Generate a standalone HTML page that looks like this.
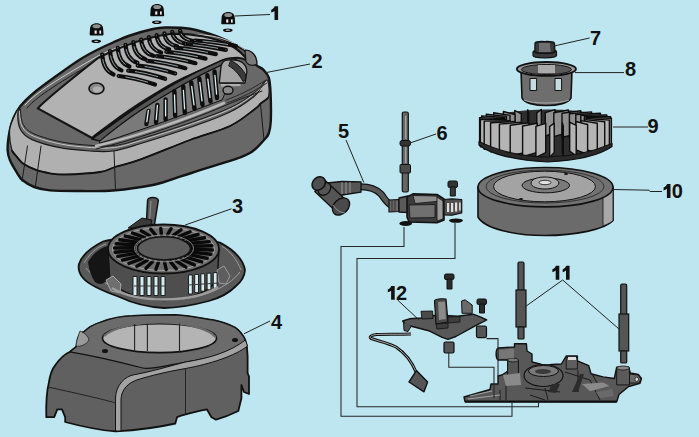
<!DOCTYPE html>
<html><head><meta charset="utf-8">
<style>
html,body{margin:0;padding:0;background:#bee6f0;}
svg{display:block;}
.lb{font-family:"Liberation Sans",sans-serif;font-weight:bold;font-size:20px;fill:#111;}
</style></head>
<body>
<svg width="699" height="437" viewBox="0 0 699 437">
<rect width="699" height="437" fill="#bee6f0"/>

<!-- ===== PART 2 : air cleaner cover ===== -->
<g id="p2" stroke-linejoin="round" stroke-linecap="round">
  <path d="M7.6,150.0 C7.5,145.1 8.6,136.4 9.6,131.0 C10.6,125.6 11.9,121.7 13.7,117.5 C15.5,113.3 17.2,110.2 20.6,106.0 C24.0,101.8 28.2,97.6 34.3,92.5 C40.4,87.4 49.4,81.0 57.0,75.5 C64.6,70.0 73.2,63.8 80.0,59.5 C86.8,55.2 92.5,52.3 98.0,49.5 C103.5,46.7 107.7,44.8 113.0,42.5 C118.3,40.2 123.7,37.7 130.0,35.5 C136.3,33.3 145.2,30.8 151.0,29.5 C156.8,28.2 158.5,27.6 165.0,27.5 C171.5,27.4 181.3,27.3 190.0,28.8 C198.7,30.3 209.1,33.6 217.0,36.5 C224.9,39.4 232.3,43.1 237.6,46.0 C242.9,48.9 245.5,50.7 248.6,53.8 C251.7,56.9 253.6,62.2 256.0,64.8 C258.4,67.4 260.9,67.3 263.0,69.4 C265.1,71.5 267.5,73.5 268.8,77.6 C270.1,81.7 270.3,86.8 270.6,94.0 C270.9,101.2 271.1,114.4 270.8,121.0 C270.5,127.6 269.8,130.3 268.7,133.5 C267.6,136.7 266.6,137.1 264.0,140.0 C261.4,142.9 257.0,148.1 253.0,151.0 C249.0,153.9 244.7,155.6 240.0,157.5 C235.3,159.4 231.7,160.2 225.0,162.3 C218.3,164.4 207.5,167.8 200.0,170.2 C192.5,172.6 187.7,174.3 180.0,176.7 C172.3,179.1 165.2,182.4 154.0,184.7 C142.8,187.0 125.3,189.4 113.0,190.5 C100.7,191.6 90.5,191.0 80.0,191.0 C69.5,191.0 57.6,191.1 50.0,190.4 C42.4,189.7 38.9,188.7 34.3,187.0 C29.7,185.3 25.2,182.4 22.3,180.0 C19.4,177.6 18.9,175.9 16.9,172.6 C14.8,169.3 11.6,164.1 10.0,160.3 C8.4,156.5 7.7,154.9 7.6,150.0 Z" fill="#686868" stroke="#141414" stroke-width="2.4"/>
  <!-- light side band -->
  <path d="M20.6,105.0 C21.3,104.5 17.8,110.6 17.8,114.7 C17.8,118.8 18.3,125.7 20.6,129.8 C22.9,133.9 25.0,136.4 31.6,139.4 C38.2,142.4 50.3,145.8 60.0,147.7 C69.7,149.6 81.2,150.4 90.0,151.0 C98.8,151.6 104.7,152.2 113.0,151.0 C121.3,149.8 127.2,147.7 140.0,143.8 C152.8,139.9 175.0,132.8 190.0,127.5 C205.0,122.2 219.3,117.2 230.0,112.0 C240.7,106.8 248.8,100.6 254.0,96.5 C259.2,92.4 258.9,90.2 261.0,87.5 C263.1,84.8 265.4,79.9 266.7,80.0 C268.0,80.1 268.8,85.0 269.0,88.0 C269.2,91.0 269.3,95.5 268.0,98.0 C266.7,100.5 263.3,101.4 261.0,103.3 C258.7,105.2 259.5,105.7 254.3,109.5 C249.1,113.3 240.7,120.9 230.0,126.0 C219.3,131.1 205.0,134.4 190.0,140.0 C175.0,145.6 152.5,155.1 140.0,159.6 C127.5,164.1 121.7,164.9 115.0,167.0 C108.3,169.1 108.3,170.8 100.0,172.0 C91.7,173.2 73.3,174.3 65.0,174.5 C56.7,174.7 54.8,174.1 50.0,173.3 C45.2,172.5 40.5,171.6 36.0,169.9 C31.5,168.2 26.2,165.6 23.0,163.4 C19.8,161.2 18.7,159.0 16.9,156.9 C15.1,154.8 13.2,155.0 12.0,150.7 C10.8,146.4 9.3,136.5 9.6,131.0 C9.9,125.5 11.9,121.8 13.7,117.5 C15.5,113.2 19.9,105.5 20.6,105.0 Z" fill="#b0b0b0" stroke="#1a1a1a" stroke-width="1.2"/>
  <path d="M12.0,150.7 C12.8,151.7 15.1,154.8 16.9,156.9 C18.7,159.0 19.8,161.2 23.0,163.4 C26.2,165.6 31.5,168.2 36.0,169.9 C40.5,171.6 45.2,172.5 50.0,173.3 C54.8,174.1 56.7,174.7 65.0,174.5 C73.3,174.3 91.7,173.2 100.0,172.0 C108.3,170.8 108.3,169.1 115.0,167.0 C121.7,164.9 127.5,164.1 140.0,159.6 C152.5,155.1 175.0,145.6 190.0,140.0 C205.0,134.4 219.3,131.1 230.0,126.0 C240.7,120.9 249.1,113.3 254.3,109.5 C259.5,105.7 258.7,105.2 261.0,103.3 C263.3,101.4 266.8,98.9 268.0,98.0" fill="none" stroke="#111" stroke-width="1.8"/>
  <!-- facet lines -->
  <path d="M27.5,146 L22,181 M41,146 L35.5,186 M114,151 L115.5,190 M260.5,104 L264,140" stroke="#1a1a1a" stroke-width="1" fill="none"/>
  <!-- rim groove lines -->
  <path d="M19.3,111.2 C19.8,113.7 19.8,122.2 22.1,126.3 C24.4,130.4 26.5,132.9 33.1,135.9 C39.7,138.9 51.8,142.3 61.5,144.2 C71.2,146.1 82.7,146.9 91.5,147.5 C100.3,148.1 106.2,148.7 114.5,147.5 C122.8,146.3 128.7,144.2 141.5,140.3 C154.3,136.4 176.5,129.3 191.5,124.0 C206.5,118.7 220.8,113.7 231.5,108.5 C242.2,103.3 250.3,97.1 255.5,93.0 C260.7,88.9 261.3,85.5 262.5,84.0" fill="none" stroke="#d0d0d0" stroke-width="0.9"/>
  <path d="M20.3,109.2 C20.8,111.7 20.8,120.2 23.1,124.3 C25.4,128.4 27.5,130.9 34.1,133.9 C40.7,136.9 52.8,140.3 62.5,142.2 C72.2,144.1 83.7,144.9 92.5,145.5 C101.3,146.1 107.2,146.7 115.5,145.5 C123.8,144.3 129.7,142.2 142.5,138.3 C155.3,134.4 177.5,127.3 192.5,122.0 C207.5,116.7 221.8,111.7 232.5,106.5 C243.2,101.3 251.3,95.1 256.5,91.0 C261.7,86.9 262.3,83.5 263.5,82.0" fill="none" stroke="#1a1a1a" stroke-width="1"/>
  <path d="M25,105 C35,93 60,78 98,56 C130,40 175,31 212,36 C235,41 248,50 252,58" fill="none" stroke="#d8d8d8" stroke-width="0.9"/>
  <path d="M27,108 C37,96 62,81 98,60" fill="none" stroke="#1a1a1a" stroke-width="1"/>
  <!-- top light panel -->
  <path d="M37.8,108.4 C45,100 60,88 98,58 C120,47 145,37 170,34 C190,33 215,37 232,46 C240,51 245,56 248,61 C240,57 235,56 222,62 C200,71 184,76 165,88 C150,97 139,103 120,117 C108,126 98,133 92,138 Z" fill="#b2b2b2" stroke="#141414" stroke-width="2.2"/>
  <!-- arch band -->
  <path d="M92,139 C110,126 125,115 140,105 C165,88 195,72 218,62 C226,58 232,57 236,59 L238,63 C232,62 226,63 222,65 C195,77 165,95 140,111 C128,119 115,129 100,141 Z" fill="#555" stroke="#111" stroke-width="1.6"/>
  <!-- side vent area -->
  <path d="M100,141 C115,129 128,119 140,111 C165,95 195,77 222,65 C226,72 228,90 222,100 C200,108 170,120 140,130 C125,135 112,140 100,143 Z" fill="#7a7a7a" stroke="#111" stroke-width="1"/>
  <g stroke="#0e0e0e" stroke-width="4.4" fill="none" stroke-linecap="round"><path d="M146.4,124.0 L148.5,111.0"/><path d="M156.0,122.5 L157.4,105.0"/><path d="M165.6,119.3 L165.6,99.5"/><path d="M175.2,116.0 L174.4,91.2"/><path d="M184.8,112.8 L183.2,86.4"/><path d="M194.5,108.8 L191.2,82.4"/><path d="M202.5,104.8 L199.3,78.4"/><path d="M210.5,101.6 L207.3,75.2"/><path d="M217.0,98.0 L214.5,71.5"/></g>
  <g stroke="#d8eef2" stroke-width="1.3" fill="none" stroke-linecap="round"><path d="M146.8,121.6 L148.4,110.4"/><path d="M156.2,119.5 L157.4,105.4"/><path d="M165.6,115.9 L165.6,100.2"/><path d="M175.1,112.3 L174.5,94.9"/><path d="M184.6,108.8 L183.4,90.4"/><path d="M194.0,104.8 L191.7,86.4"/><path d="M202.0,100.8 L199.8,82.4"/><path d="M210.0,97.6 L207.8,79.2"/><path d="M216.6,94.0 L214.9,75.5"/></g>
  <!-- light strip under vents -->
  <path d="M96,146 C130,138 180,122 224,103" fill="none" stroke="#b8b8b8" stroke-width="2.5"/>
  <path d="M96,149 C130,141 180,125 224,106 C240,99 252,95 262,91" fill="none" stroke="#1a1a1a" stroke-width="1"/>
  <path d="M226,100 C240,95 252,89 266,80 M227,103 C241,98 253,92 267,83" fill="none" stroke="#222" stroke-width="0.9"/>
  <!-- right opening -->
  <path d="M219.3,83 L221,66.6 C222,62 224,60.5 226.6,60.2 C233,59.5 240,60.5 243,63 C246,66 247,69 246.8,72 L245,83 Z" fill="#a5a5a5" stroke="#111" stroke-width="1.3"/>
  <path d="M231,60.5 C238,64 244,70 246,76 C246,79 245,81 243,81.5 C240,76 236,70 229,66 Z" fill="#3a3a3a" stroke="#111" stroke-width="1"/>
  <path d="M221,84 L240,84 L241,86 L221,86.5 Z" fill="#b0b0b0"/>
  <ellipse cx="228" cy="90.3" rx="5" ry="4" fill="#888" stroke="#111" stroke-width="1.4"/>
  <!-- hump -->
  <path d="M245,50 C252,50 257,56 257,64 C254,66 249,66 246,62 Z" fill="#7a7a7a" stroke="#111" stroke-width="1.2"/>
  <!-- hole -->
  <ellipse cx="96.5" cy="88.5" rx="7.5" ry="5.5" fill="#8a8a8a" stroke="#111" stroke-width="1.6"/>
  <ellipse cx="97.5" cy="89.5" rx="4.5" ry="3" fill="#b0b0b0" stroke="none"/>
  <!-- grille -->
  <g stroke="#0d0d0d" stroke-width="4.2" fill="none" stroke-linecap="round">
<path d="M102.2,54.5 Q103.1,70.5 113.6,74.5"/>
<path d="M110.0,51.0 Q110.9,66.5 121.5,70.4"/>
<path d="M117.8,47.8 Q118.7,62.8 129.5,66.5"/>
<path d="M125.5,44.8 Q126.5,59.2 137.4,62.8"/>
<path d="M133.3,42.0 Q134.3,55.7 145.4,59.2"/>
<path d="M141.1,39.5 Q142.1,52.5 153.3,55.8"/>
<path d="M148.9,37.2 Q149.9,49.4 161.2,52.5"/>
<path d="M156.7,35.2 Q157.7,46.5 169.2,49.4"/>
<path d="M164.4,33.4 Q165.5,43.8 177.1,46.4"/>
<path d="M172.2,31.8 Q173.2,41.3 185.1,43.6"/>
<path d="M180.0,30.5 Q181.0,38.9 193.0,41.0"/>
<path d="M118.6,76.0 Q135.0,77.7 155.0,84.5"/>
<path d="M128.2,70.7 Q144.8,72.3 165.1,78.8"/>
<path d="M137.7,65.6 Q154.6,67.2 175.2,73.4"/>
<path d="M147.2,60.8 Q164.4,62.3 185.4,68.2"/>
<path d="M156.8,56.2 Q174.2,57.6 195.5,63.2"/>
<path d="M166.3,51.9 Q184.0,53.3 205.6,58.6"/>
<path d="M175.9,47.9 Q193.8,49.1 215.8,54.1"/>
<path d="M185.4,44.1 Q203.6,45.2 225.9,49.9"/>
<path d="M195.0,40.5 Q213.4,41.6 236.0,46.0"/>
  </g>
  <g stroke="#9fb0b4" stroke-width="0.9" fill="none" stroke-dasharray="0 20 60 20"><path pathLength="100" d="M102.2,54.5 Q103.1,70.5 113.6,74.5"/><path pathLength="100" d="M110.0,51.0 Q110.9,66.5 121.5,70.4"/><path pathLength="100" d="M117.8,47.8 Q118.7,62.8 129.5,66.5"/><path pathLength="100" d="M125.5,44.8 Q126.5,59.2 137.4,62.8"/><path pathLength="100" d="M133.3,42.0 Q134.3,55.7 145.4,59.2"/><path pathLength="100" d="M141.1,39.5 Q142.1,52.5 153.3,55.8"/><path pathLength="100" d="M148.9,37.2 Q149.9,49.4 161.2,52.5"/><path pathLength="100" d="M156.7,35.2 Q157.7,46.5 169.2,49.4"/><path pathLength="100" d="M164.4,33.4 Q165.5,43.8 177.1,46.4"/><path pathLength="100" d="M172.2,31.8 Q173.2,41.3 185.1,43.6"/><path pathLength="100" d="M180.0,30.5 Q181.0,38.9 193.0,41.0"/><path pathLength="100" d="M118.6,76.0 Q135.0,77.7 155.0,84.5"/><path pathLength="100" d="M128.2,70.7 Q144.8,72.3 165.1,78.8"/><path pathLength="100" d="M137.7,65.6 Q154.6,67.2 175.2,73.4"/><path pathLength="100" d="M147.2,60.8 Q164.4,62.3 185.4,68.2"/><path pathLength="100" d="M156.8,56.2 Q174.2,57.6 195.5,63.2"/><path pathLength="100" d="M166.3,51.9 Q184.0,53.3 205.6,58.6"/><path pathLength="100" d="M175.9,47.9 Q193.8,49.1 215.8,54.1"/><path pathLength="100" d="M185.4,44.1 Q203.6,45.2 225.9,49.9"/><path pathLength="100" d="M195.0,40.5 Q213.4,41.6 236.0,46.0"/></g>
</g>

<!-- ===== PART 1 : nuts ===== -->
<g id="p1">
  <g transform="translate(96.6,29.4)">
    <path d="M-6.3,6 L-7,5.2 L-6.6,0 C-6.6,-4 -4,-6.2 0,-6.2 C4,-6.2 6.6,-4 6.6,0 L7,5.2 L6.3,6 Z" fill="#0d0d0d"/>
    <ellipse cx="0" cy="-3.2" rx="3.9" ry="2" fill="#8e8e8e"/>
    <rect x="-2" y="1.1" width="2.1" height="3.2" fill="#f0f0f0"/><rect x="2.8" y="1.1" width="1.7" height="3.2" fill="#f0f0f0"/>
    <ellipse cx="-0.4" cy="11.9" rx="4.8" ry="1.8" fill="#0d0d0d"/>
    <ellipse cx="-0.4" cy="11.9" rx="2.2" ry="0.6" fill="#cfcfcf"/>
  </g>
  <g transform="translate(157.2,10.3)">
    <path d="M-6.3,6 L-7,5.2 L-6.6,0 C-6.6,-4 -4,-6.2 0,-6.2 C4,-6.2 6.6,-4 6.6,0 L7,5.2 L6.3,6 Z" fill="#0d0d0d"/>
    <ellipse cx="0" cy="-3.2" rx="3.9" ry="2" fill="#8e8e8e"/>
    <rect x="-2" y="1.1" width="2.1" height="3.2" fill="#f0f0f0"/><rect x="2.8" y="1.1" width="1.7" height="3.2" fill="#f0f0f0"/>
    <ellipse cx="-0.4" cy="11.9" rx="4.8" ry="1.8" fill="#0d0d0d"/>
    <ellipse cx="-0.4" cy="11.9" rx="2.2" ry="0.6" fill="#cfcfcf"/>
  </g>
  <g transform="translate(228.2,18.3)">
    <path d="M-6.3,6 L-7,5.2 L-6.6,0 C-6.6,-4 -4,-6.2 0,-6.2 C4,-6.2 6.6,-4 6.6,0 L7,5.2 L6.3,6 Z" fill="#0d0d0d"/>
    <ellipse cx="0" cy="-3.2" rx="3.9" ry="2" fill="#8e8e8e"/>
    <rect x="-2" y="1.1" width="2.1" height="3.2" fill="#f0f0f0"/><rect x="2.8" y="1.1" width="1.7" height="3.2" fill="#f0f0f0"/>
    <ellipse cx="-0.4" cy="11.9" rx="4.8" ry="1.8" fill="#0d0d0d"/>
    <ellipse cx="-0.4" cy="11.9" rx="2.2" ry="0.6" fill="#cfcfcf"/>
  </g>
</g>

<!-- ===== PART 3 : recoil starter ===== -->
<g id="p3" stroke-linejoin="round">
  <!-- handle -->
  <path d="M147.6,200.5 C148,196.5 157.5,196.5 158.3,200.5 L154.5,224.5 L146.3,224.5 Z" fill="#5a5a5a" stroke="#111" stroke-width="1.5"/>
  <path d="M151,201 L149.5,222" stroke="#aaa" stroke-width="0.7"/>
  <path d="M128,228 L142,218 L152,220 L150,228 Z" fill="#3a3a3a" stroke="#111" stroke-width="1"/>
  <!-- flange -->
  <path d="M79,264 C82,255 92,247 103,241.5 C125,236 190,236 220,242.6 C234,250 243,259 245,270 C244.5,277 241,282 236,286 C228,294 220,298 208.8,301 C190,306 175,308 164,308 C145,307 130,302 119.5,297 C100,290 88,284 83,278 C79,273 78,268 79,264 Z" fill="#595959" stroke="#111" stroke-width="1.8"/>
  <path d="M86,268 C95,280 125,296 164,300 C200,300 228,288 240,272" fill="none" stroke="#a0a0a0" stroke-width="1"/>
  <path d="M84,263 C92,250 100,246 106,244 M222,246 C231,252 237,260 241,270" fill="none" stroke="#9a9a9a" stroke-width="1"/>
  <!-- dome body -->
  <path d="M108,249 L109.5,276 C113,290 135,299 164,300.5 C195,299 214,290 217.5,276 L219,249 Z" fill="#4e4e4e" stroke="#111" stroke-width="1.4"/>
  <!-- dark side cavity left -->
  <path d="M88,262 C94,252 102,247 108,246 L110,276 C106,284 100,286 95,282 C91,276 89,270 88,262 Z" fill="#151515"/>
  <path d="M106,280 L113,276 L121,284 L120,293 L111,291 Z" fill="#6e6e6e" stroke="#bbb" stroke-width="0.8"/>
  <path d="M217,270 L224,266 L230,276 L226,284 L219,283 Z" fill="#5e5e5e" stroke="#aaa" stroke-width="0.8"/>
  <!-- vent windows -->
  <g fill="#d4ecf2" stroke="#111" stroke-width="0.9">
    <rect x="133.0" y="276.5" width="4" height="19"/>
    <rect x="140.0" y="276.5" width="4" height="19"/>
    <rect x="147.0" y="276.5" width="4" height="19"/>
    <rect x="154.0" y="276.5" width="4" height="19"/>
    <rect x="161.0" y="276.5" width="4" height="19"/>
    <rect x="188.5" y="275.0" width="3.8" height="19.0"/>
    <rect x="194.7" y="274.4" width="3.8" height="18.2"/>
    <rect x="200.9" y="273.8" width="3.8" height="17.4"/>
    <rect x="207.1" y="273.2" width="3.8" height="16.6"/>
    <rect x="213.3" y="272.6" width="3.8" height="15.8"/>
  </g>
  <path d="M134,286 L166,286 M188,285 L219,283" stroke="#3a3a3a" stroke-width="1.2" fill="none"/>
  <path d="M112,288 C125,296 145,299.5 164,299.5 C190,299 208,294 218,287" fill="none" stroke="#9c9c9c" stroke-width="2.6"/>
  <!-- top ring -->
  <ellipse cx="163.5" cy="249" rx="55.5" ry="24.5" fill="#6e6e6e" stroke="#111" stroke-width="1.8"/>
  <ellipse cx="163.5" cy="249" rx="51" ry="21.5" fill="none" stroke="#a8a8a8" stroke-width="0.9"/>
  <g id="slots3" stroke="#0a0a0a" stroke-width="3.4" stroke-linecap="round"><path d="M192.0,249.1 L212.4,250.0"/><path d="M191.0,252.0 L210.9,254.3"/><path d="M188.9,254.7 L207.2,258.3"/><path d="M185.6,257.2 L201.7,261.9"/><path d="M181.3,259.3 L194.4,264.9"/><path d="M176.2,260.9 L185.8,267.2"/><path d="M170.6,261.9 L176.3,268.8"/><path d="M164.6,262.4 L166.2,269.5"/><path d="M158.5,262.2 L155.9,269.3"/><path d="M152.7,261.5 L146.0,268.2"/><path d="M147.3,260.2 L136.9,266.2"/><path d="M142.5,258.3 L128.9,263.5"/><path d="M138.7,256.1 L122.5,260.2"/><path d="M136.0,253.4 L117.8,256.4"/><path d="M134.4,250.6 L115.1,252.3"/><path d="M134.0,247.7 L114.6,248.0"/><path d="M135.0,244.8 L116.1,243.7"/><path d="M137.1,242.1 L119.8,239.7"/><path d="M140.4,239.6 L125.3,236.1"/><path d="M144.7,237.5 L132.6,233.1"/><path d="M149.8,235.9 L141.2,230.8"/><path d="M155.4,234.9 L150.7,229.2"/><path d="M161.4,234.4 L160.8,228.5"/><path d="M167.5,234.6 L171.1,228.7"/><path d="M173.3,235.3 L181.0,229.8"/><path d="M178.7,236.6 L190.1,231.8"/><path d="M183.5,238.5 L198.1,234.5"/><path d="M187.3,240.7 L204.5,237.8"/><path d="M190.0,243.4 L209.2,241.6"/><path d="M191.6,246.2 L211.9,245.7"/></g>
  <ellipse cx="164" cy="248.4" rx="26.5" ry="11.6" fill="#5c5c5c" stroke="#111" stroke-width="1.6"/>
  <ellipse cx="164" cy="248.4" rx="29.5" ry="13.4" fill="none" stroke="#a0a0a0" stroke-width="0.8"/>
</g>

<!-- ===== PART 4 : blower housing ===== -->
<g id="p4" stroke-linejoin="round">
  <path d="M76.3,346.8 L78,338 C80,334 82,332 84,331.8 C90,326 95,324 100,322.5 C112,318 122,316 132.5,316 C150,315 162,315 175,315 C190,316 200,318 212.7,320 C222,322 230,325 235,327.5 C240,331 243,335 245.3,340 C247,345 247.6,350 247.6,356 L247.6,373 L249,376.6 L249,394 L244,392 L241.4,385 L241.4,398.3 L238.3,411 C230,415 222,418 216,419.7 L211.5,417.2 L206.8,409.3 C195,412 185,414 177,417.2 L175.3,423.5 C160,427 140,430 115.5,431.4 C98,430 80,426 65.2,422 L65.2,417.2 L62,409.3 L57.3,409.3 L54.2,417.2 L46.3,417.2 C46,405 46.5,392 48.8,383 C50,375 52,369 55,365.6 C60,358 65,354 70,351.8 Z" fill="#606060" stroke="#111" stroke-width="1.8"/>
  <!-- top surface -->
  <path d="M76.3,346.8 L78,338 C80,334 82,332 84,331.8 C90,326 95,324 100,322.5 C112,318 122,316 132.5,316 C150,315 162,315 175,315 C190,316 200,318 212.7,320 C222,322 230,325 235,327.5 C240,331 243,335 245.3,340 C244,346 240,350 238.7,349 C225,355 210,358 185.5,362 C165,366 150,370 142.7,368 C120,362 95,356 70,351.8 Z" fill="#6b6b6b" stroke="#111" stroke-width="1.2"/>
  <!-- light rounded band -->
  <path d="M115.5,431 L115.5,398 C116,385 125,376 134.4,374.7 C150,372 170,366 185.5,362 C210,358 230,352 245.3,340 L247.6,346 C235,356 210,364 185.5,368.5 C165,372 150,376 140,379 C128,382 121,390 121,400 L121,431 Z" fill="#a2a2a2" stroke="#111" stroke-width="1"/>
  <path d="M48,387 C80,394 110,401 115.5,403" fill="none" stroke="#222" stroke-width="1"/>
  <path d="M185.5,368 L185.5,414" fill="none" stroke="#222" stroke-width="1"/>
  <path d="M80,331 C78,336 76,342 76,346 C80,347 86,345 89,340 C88,336 85,333 80,331 Z" fill="#9a9a9a" stroke="#222" stroke-width="0.8"/>
  <!-- opening -->
  <ellipse cx="159.5" cy="338.2" rx="57" ry="14.4" fill="#b4b4b4" stroke="#111" stroke-width="1.6"/>
  <path d="M104,336 C112,328 135,322.5 160,322.5 C190,322.5 210,330 215.5,337" fill="none" stroke="#6a6a6a" stroke-width="2.2"/>
  <path d="M134.6,324 L134.6,350 M147.4,323.5 L147.4,351 M179.5,323.5 L179.5,351.5" stroke="#222" stroke-width="1.1" fill="none"/>
  <ellipse cx="105" cy="351" rx="3" ry="2" fill="#111"/>
  <ellipse cx="235" cy="340" rx="3" ry="2" fill="#111"/>
</g>

<!-- ===== PART 7 nut & 8 cup ===== -->
<g id="p78" stroke-linejoin="round">
  <path d="M533,52 C533,50 537,50 540,50 L550,50 C554,50 556.5,50 556.5,52 L556.5,55.5 C556.5,57.5 552,57.8 544.7,57.8 C537,57.8 533,57.5 533,55.5 Z" fill="#3a3a3a" stroke="#111" stroke-width="1.2"/>
  <path d="M535,43 C536,41 540,41.5 544.7,41.5 C549,41.5 553,41 554.5,43 L555,52 C552,54 537,54 534.8,52 Z" fill="#2a2a2a" stroke="#111" stroke-width="1.2"/>
  <path d="M539,43 L550,43 L551,52 L538.5,52 Z" fill="#6e6e6e"/><path d="M536,44 L539,43 L538.5,52 L535.5,51 Z M550,43 L553.5,44 L554,51 L551,52 Z" fill="#3a3a3a"/>
  <!-- cup -->
  <path d="M521,70 L522,98 C524,103 535,105.5 546,105.5 C558,105.5 569,103 571,98 L572,70 Z" fill="#6e6e6e" stroke="#111" stroke-width="1.6"/>
  <path d="M524,100 C532,104 560,104 569,100" fill="none" stroke="#aaa" stroke-width="1"/>
  <ellipse cx="546.4" cy="68.9" rx="29.6" ry="6.9" fill="#9a9a9a" stroke="#111" stroke-width="1.8"/>
  <ellipse cx="546.4" cy="69.5" rx="25" ry="5" fill="#5a5a5a" stroke="#111" stroke-width="1"/>
  <rect x="538" y="65" width="17" height="8" fill="#aaa"/>
  <rect x="530" y="78.5" width="6.6" height="12" fill="#c5dde2" stroke="#111" stroke-width="1"/>
  <rect x="555" y="78.5" width="6.6" height="12" fill="#c5dde2" stroke="#111" stroke-width="1"/>
</g>

<!-- ===== PART 9 fan ===== -->
<g id="p9" stroke-linejoin="round">
  <path d="M479,121 C490,114 520,109.5 547,109.5 C575,109.5 600,113 612,119 L612,143 C600,153 580,157 547.6,157 C515,157 490,152 479,143 Z" fill="#2e2e2e" stroke="none"/>
  <g id="vanes" stroke="#0d0d0d" stroke-width="1.4" stroke-linejoin="round"><path d="M545.3,112.7 L555.1,109.6 L555.1,131.6 L545.3,136.4 Z" fill="#909090"/><path d="M536.8,112.9 L541.3,109.5 L541.3,131.5 L536.8,136.6 Z" fill="#909090"/><path d="M553.8,112.8 L568.4,110.0 L568.4,132.3 L553.8,136.6 Z" fill="#909090"/><path d="M528.7,113.2 L527.7,109.8 L527.7,132.0 L528.7,137.2 Z" fill="#909090"/><path d="M562.0,113.2 L580.8,110.8 L580.8,133.5 L562.0,137.1 Z" fill="#909090"/><path d="M521.3,113.8 L514.8,110.5 L514.8,133.0 L521.3,138.0 Z" fill="#909090"/><path d="M569.4,113.7 L591.6,111.9 L591.6,135.2 L569.4,138.0 Z" fill="#909090"/><path d="M515.0,114.5 L503.4,111.5 L503.4,134.5 L515.0,139.1 Z" fill="#909090"/><path d="M575.8,114.5 L600.4,113.3 L600.4,137.3 L575.8,139.1 Z" fill="#909090"/><path d="M510.0,115.4 L493.7,112.7 L493.7,136.4 L510.0,140.5 Z" fill="#909090"/><path d="M580.8,115.3 L606.8,114.9 L606.8,139.7 L580.8,140.4 Z" fill="#909090"/><path d="M506.5,116.4 L486.3,114.2 L486.3,138.7 L506.5,142.0 Z" fill="#909090"/><path d="M584.4,116.3 L610.6,116.6 L610.6,142.3 L584.4,142.0 Z" fill="#909090"/><path d="M504.8,117.5 L481.6,115.9 L481.6,141.3 L504.8,143.7 Z" fill="#909090"/><path d="M586.2,117.4 L611.4,118.3 L611.4,145.0 L586.2,143.6 Z" fill="#909090"/><path d="M504.8,118.6 L479.6,117.7 L479.6,144.0 L504.8,145.4 Z" fill="#b4b4b4"/><path d="M586.2,118.5 L609.4,120.1 L609.4,147.7 L586.2,145.3 Z" fill="#b4b4b4"/><path d="M506.6,119.7 L480.4,119.4 L480.4,146.7 L506.6,147.0 Z" fill="#b4b4b4"/><path d="M584.5,119.6 L604.7,121.8 L604.7,150.3 L584.5,147.0 Z" fill="#b4b4b4"/><path d="M510.2,120.7 L484.2,121.1 L484.2,149.3 L510.2,148.6 Z" fill="#b4b4b4"/><path d="M581.0,120.6 L597.3,123.3 L597.3,152.6 L581.0,148.5 Z" fill="#b4b4b4"/><path d="M515.2,121.5 L490.6,122.7 L490.6,151.7 L515.2,149.9 Z" fill="#b4b4b4"/><path d="M576.0,121.5 L587.6,124.5 L587.6,154.5 L576.0,149.9 Z" fill="#b4b4b4"/><path d="M521.6,122.3 L499.4,124.1 L499.4,153.8 L521.6,151.0 Z" fill="#b4b4b4"/><path d="M569.7,122.2 L576.2,125.5 L576.2,156.0 L569.7,151.0 Z" fill="#b4b4b4"/><path d="M529.0,122.8 L510.2,125.2 L510.2,155.5 L529.0,151.9 Z" fill="#b4b4b4"/><path d="M562.3,122.8 L563.3,126.2 L563.3,157.0 L562.3,151.8 Z" fill="#b4b4b4"/><path d="M537.2,123.2 L522.6,126.0 L522.6,156.7 L537.2,152.4 Z" fill="#b4b4b4"/><path d="M554.2,123.1 L549.7,126.5 L549.7,157.5 L554.2,152.4 Z" fill="#b4b4b4"/><path d="M545.7,123.3 L535.9,126.4 L535.9,157.4 L545.7,152.6 Z" fill="#b4b4b4"/></g>
  <path d="M479,141.5 C500,152 520,156.5 547.6,157 C575,156.5 595,151 612,143.5 L612,146.6 C600,155 580,160.5 547.6,162 C515,160.5 490,154 479,145 Z" fill="#2a2a2a" stroke="#111" stroke-width="1.2"/>
</g>

<!-- ===== PART 10 flywheel ===== -->
<g id="p10" stroke-linejoin="round">
  <path d="M478,187 L478,217 C485,229 515,235.5 545,235.5 C575,235.5 605,229.5 613,220.5 L613,187 Z" fill="#6b6b6b" stroke="#111" stroke-width="1.6"/>
  <path d="M603,195.5 L603,226 C608,224 611,222.5 613,220.5 L613,187 C610,191 607,193 603,195.5 Z" fill="#a8a8a8" stroke="#111" stroke-width="0.8"/>
  <ellipse cx="545.5" cy="187.2" rx="67.5" ry="19.7" fill="#727272" stroke="#111" stroke-width="1.6"/>
  <ellipse cx="545" cy="186.5" rx="59" ry="16.5" fill="none" stroke="#222" stroke-width="0.8"/>
  <ellipse cx="544.5" cy="186.5" rx="51" ry="15.3" fill="#a3a3a3" stroke="#111" stroke-width="1"/>
  <ellipse cx="545.8" cy="185.4" rx="23.7" ry="7.4" fill="#7a7a7a" stroke="#111" stroke-width="1"/>
  <path d="M531,183 C532,178 540,177 545,177 C552,177 558,179 559,183 C558,187 552,189 545,189 C538,189 531,187 531,183 Z" fill="#aaa" stroke="#111" stroke-width="1"/>
  <ellipse cx="545" cy="182.5" rx="6" ry="2.2" fill="#e0e0e0" stroke="#111" stroke-width="0.8"/>
  <ellipse cx="566" cy="174" rx="2" ry="1" fill="#111"/><ellipse cx="521" cy="199" rx="2" ry="1" fill="#111"/>
</g>

<!-- ===== PART 6 rod ===== -->
<g id="p6">
  <rect x="402.3" y="112" width="6" height="80" rx="1.5" fill="#666" stroke="#111" stroke-width="1.2"/>
  <path d="M405.8,116 L405.8,139 M405.8,147 L405.8,163" stroke="#c8c8c8" stroke-width="0.9"/>
  <rect x="400" y="140.5" width="10.5" height="5.5" rx="2" fill="#333" stroke="#111" stroke-width="1"/>
  <rect x="400" y="164.5" width="10.5" height="8.5" rx="1" fill="#4a4a4a" stroke="#111" stroke-width="1"/>
</g>

<!-- ===== PART 5 ignition coil ===== -->
<g id="p5" stroke-linejoin="round">
  <!-- wire -->
  <path d="M356,187 C367,186 375,188 381,194 C385,199 387,204 393,206 L402,206" fill="none" stroke="#111" stroke-width="7" stroke-linecap="round"/>
  <path d="M356,187 C367,186 375,188 381,194 C385,199 387,204 393,206 L402,206" fill="none" stroke="#575757" stroke-width="4.6" stroke-linecap="round"/>
  <!-- boot -->
  <path d="M327,183 L342,181.5 L361,181.8 L361,192.2 L345,194.5 L333,197 Z" fill="#555" stroke="#111" stroke-width="1.3"/>
  <path d="M342,182 L342,194 M346,182 L346,194 M350,182 L350,193" stroke="#aaa" stroke-width="0.8"/>
  <path d="M314.8,191.5 L325.2,180.5 L346.5,200.5 L336,211.5 Z" fill="#555" stroke="#111" stroke-width="1.3"/>
  <ellipse cx="341" cy="206.5" rx="9.8" ry="7.2" transform="rotate(-45 341 206.5)" fill="#4a4a4a" stroke="#111" stroke-width="1.4"/>
  <path d="M333,205 C336,210 341,213 345,213" fill="none" stroke="#aaa" stroke-width="0.8"/>
  <ellipse cx="324.5" cy="189" rx="7" ry="5.5" transform="rotate(-45 324.5 189)" fill="#555" stroke="#111" stroke-width="1.3"/>
  <ellipse cx="318.7" cy="183.5" rx="7.3" ry="6" transform="rotate(-45 318.7 183.5)" fill="#4e4e4e" stroke="#111" stroke-width="1.5"/>
  <!-- coil -->
  <path d="M389,200 L399,199.5 L399,211.5 L389,212 Z" fill="#6a6a6a" stroke="#111" stroke-width="1.2"/>
  <path d="M392,200 L392,212 M395,200 L395,212" stroke="#222" stroke-width="0.8"/>
  <path d="M399,198 L408,196 L409,212.7 L399,212 Z" fill="#5a5a5a" stroke="#111" stroke-width="1.3"/>
  <path d="M407,197 L413,193.9 L437,194.5 L444,199 L444,220 L437,222.8 L409,222 L407,217 Z" fill="#3c3c3c" stroke="#111" stroke-width="1.6"/>
  <path d="M413,195.5 L436,196 L441,201 L415,203.5 Z" fill="#8c8c8c" stroke="#111" stroke-width="0.8"/>
  <path d="M409,205 L435,204.5 L435,217.5 L410,218 Z" fill="#707070" stroke="#111" stroke-width="0.8"/>
  <path d="M437,197 L443,201 L443,219 L437,221 Z" fill="#9a9a9a" stroke="#111" stroke-width="0.8"/>
  <path d="M444,199.5 L452,198.9 L461.7,199.5 L461.7,213 L452,215.2 L444,215 Z" fill="#4e4e4e" stroke="#111" stroke-width="1.2"/>
  <rect x="447" y="203" width="2.2" height="9" fill="#e0e0e0"/><rect x="451" y="203" width="2.2" height="9" fill="#e0e0e0"/><rect x="455" y="202.5" width="2.2" height="9" fill="#e0e0e0"/><rect x="459" y="202.5" width="1.8" height="8" fill="#cfcfcf"/>
  <!-- bolt -->
  <rect x="448" y="181" width="9.5" height="6.5" rx="1.5" fill="#333" stroke="#111" stroke-width="1"/>
  <rect x="450.3" y="187" width="5" height="9" fill="#3a3a3a" stroke="#111" stroke-width="1"/>
  <!-- washers -->
  <ellipse cx="405.7" cy="223.5" rx="6.3" ry="2.5" fill="#111"/>
  <ellipse cx="456" cy="220.6" rx="7" ry="2.2" fill="#111"/>
</g>

<!-- ===== PART 11 studs ===== -->
<g id="p11" fill="#555" stroke="#111" stroke-width="1.2">
  <rect x="518" y="262" width="6" height="30" rx="1.5"/>
  <rect x="516" y="290" width="10" height="37"/>
  <rect x="518" y="327" width="6" height="12" rx="1"/>
  <rect x="620.7" y="284" width="6" height="31" rx="1.5"/>
  <rect x="619" y="314" width="9.7" height="37"/>
  <rect x="620.7" y="351" width="6" height="12" rx="1"/>
</g>

<!-- ===== PART 12 bracket ===== -->
<g id="p12" stroke-linejoin="round">
  <path d="M402.7,321 L409.4,318.8 L421,318 L432.6,315.5 L445,315.5 L457.7,316.2 L473,314.2 L480.9,317.1 L486.7,320 L477,324.9 L455.8,336.5 L448,339.4 L442.2,337.4 L428.7,330.7 L413.3,326.8 L405.6,324.9 Z" fill="#585858" stroke="#111" stroke-width="1.4"/>
  <path d="M403.6,323 L404,330.5 L408,331.6 L411.3,326" fill="#555" stroke="#111" stroke-width="1"/>
  <path d="M434.5,301 C435,299 440,298.5 446,299 L448,322 L436,324 Z" fill="#4a4a4a" stroke="#111" stroke-width="1.2"/>
  <path d="M438,302 L445,301.5 L446,319 L439,320 Z" fill="#8a8a8a"/>
  <path d="M421,311.3 L432.6,311 L433,318.5 L422,319 Z" fill="#4a4a4a" stroke="#111" stroke-width="0.9"/>
  <path d="M461.6,301 L465,299.8 L472.2,305 L472.2,313.3 L462,313.3 Z" fill="#6a6a6a" stroke="#111" stroke-width="1"/>
  <path d="M448,317 L460,316.5 L460,322 L448,323 Z M436,324 L448,323 L448,328 L437,329 Z" fill="#3e3e3e" stroke="#111" stroke-width="0.8"/>
  <!-- bolts -->
  <rect x="444.5" y="274" width="9.5" height="5.5" rx="1.5" fill="#2c2c2c" stroke="#111"/>
  <rect x="447" y="279" width="5" height="10" fill="#2c2c2c" stroke="#111"/>
  <rect x="477" y="299" width="9.5" height="5.5" rx="1.5" fill="#2c2c2c" stroke="#111"/>
  <rect x="479.5" y="304" width="5" height="9" fill="#2c2c2c" stroke="#111"/>
  <!-- spacers -->
  <rect x="476.5" y="326" width="10" height="11.6" rx="1.5" fill="#555" stroke="#111" stroke-width="1.2"/>
  <rect x="444" y="342" width="10" height="11" rx="1.5" fill="#555" stroke="#111" stroke-width="1.2"/>
  <!-- wire -->
  <path d="M411,334 C400,334.5 385,334 376.6,334.5 C371,335 369,337 371,338.5 C378,341 388,343 396,347 C405,353 412,362 416,372" fill="none" stroke="#111" stroke-width="3"/>
  <path d="M411,334 C400,334.5 385,334 376.6,334.5 C371,335 369,337 371,338.5 C378,341 388,343 396,347 C405,353 412,362 416,372" fill="none" stroke="#bbb" stroke-width="0.9"/>
  <path d="M409,382 L416.4,370.6 L427.6,382 L424,391.8 Z" fill="#555" stroke="#111" stroke-width="1.4"/>
</g>

<!-- ===== crankcase ===== -->
<g id="crank" stroke-linejoin="round">
  <path d="M465,401.6 L464,397 L490,389.5 L491,384 L498,384 L498,376 L502,375 L508,371 L508,360 L498,360 C495.5,358 495.5,350 498,348 L514.5,347 L514.5,343.7 L526.4,343.7 L527,351 L532,354 L532,362 L540,364 L545,366 C550,364 555,364 561.4,364 L566.2,356 L577.4,356 L577.4,360.8 L588.7,365.6 L591,373.7 L603,376.9 L614.3,378.5 L616.7,367.2 L628.7,367.2 L630.3,372.9 L638.3,374.5 L641.5,378.5 L640,383.3 L628.7,386.5 L619,394.5 L616.7,401.7 Z" fill="#585858" stroke="#111" stroke-width="1.4"/>
  <path d="M500,390 L500,400 M506,386 L506,400 M525,388 L560,392 M565,372 L590,380 L600,400 M530,395 L545,400 M578,370 L578,392 M592,374 L600,388 M545,388 L548,400" stroke="#1a1a1a" stroke-width="1" fill="none"/>
  <path d="M465,401.6 L616.7,401.6" stroke="#111" stroke-width="2.2"/>
  <ellipse cx="543.5" cy="375.5" rx="19.5" ry="11" fill="#5e5e5e" stroke="#111" stroke-width="1.2"/>
  <ellipse cx="543.5" cy="371" rx="15" ry="5.5" fill="#7a7a7a" stroke="#111" stroke-width="1"/>
  <ellipse cx="543" cy="371.5" rx="8" ry="2.5" fill="#3a3a3a"/>
  <path d="M507.6,360 L518.4,360 L518.4,376 L507.6,376 Z" fill="#555" stroke="#111" stroke-width="1"/>
  <ellipse cx="513" cy="360" rx="5.4" ry="2" fill="#777" stroke="#111" stroke-width="0.8"/>
  <path d="M499,350 L514,348.5 L514,358 L499,359 Z" fill="#777"/>
  <path d="M503,375 L520,373 L521,385 L506,386 Z" fill="#8a8a8a"/>
  <path d="M582,384 L603,382.5 L609.5,386 L590,391.3 Z" fill="#8a8a8a"/>
  <path d="M596,392 L612,389 L614,396 L600,398 Z" fill="#6a6a6a"/>
  <path d="M616.7,368 L629.5,368 L629.5,384.9 L616.7,384.9 Z" fill="#5a5a5a" stroke="#111" stroke-width="0.9"/>
  <path d="M629.5,374 L638,375 L641,379 L639,383 L629.5,383 Z" fill="#6a6a6a" stroke="#111" stroke-width="0.9"/><ellipse cx="636.7" cy="379.3" rx="1.8" ry="2.2" fill="#ddd" stroke="#111" stroke-width="0.8"/>
  <ellipse cx="623.1" cy="368" rx="6.4" ry="2" fill="#888" stroke="#111" stroke-width="0.8"/>
  <path d="M566.2,357.5 L577.4,357.5 L577.4,369 L566.2,369 Z" fill="#5e5e5e" stroke="#111" stroke-width="0.9"/><rect x="568" y="357" width="8" height="3" fill="#ddd"/>
  <path d="M572,392 L580,374 L584,374 L578,392 Z M548,392 L552,384 L560,384 L556,393 Z" fill="#2c2c2c"/>
  <path d="M470,396 L492,391 M468,399 L500,395" stroke="#aaa" stroke-width="0.9"/>
</g>

<!-- ===== dashed lines ===== -->
<g fill="none" stroke="#262626" stroke-width="1.05">
  <path d="M404,227 L404,246.4 L341,246.4 L341,416.3 L512,416.3 L512,402"/>
  <path d="M455,223 L455,258.5 L357,258.5 L357,406.8 L538.5,406.8 L538.5,402"/>
  <path d="M448.8,353 L448.8,367.2 L494,367.2 L494,398"/>
  <path d="M486.5,338.6 L498,338.6 L498,376.6"/>
</g>

<!-- leaders & labels (top) -->
<g stroke="#222" stroke-width="1" fill="none">
  <path d="M235,16 L270,14.5"/>
  <path d="M266,72.6 L310,64"/>
  <path d="M185.2,225 L231.5,208.8"/>
  <path d="M244,333.8 L270,321"/>
  <path d="M346,140 L363.8,182.5"/>
  <path d="M410,143 L436,134"/>
  <path d="M554,46 L589.6,38"/>
  <path d="M575,72.6 L624,72.6"/>
  <path d="M613,127 L648,127"/>
  <path d="M613,189.5 L649,190.2 L650,191.5 L662,191.5"/>
  <path d="M525.5,306.5 L562.7,280 L619,329"/>
  <path d="M397.6,300 L419,320"/>
</g>
<g class="lb">
  <text x="311.5" y="68.2">2</text>
  <text x="232.0" y="212.7">3</text>
  <text x="271.0" y="328.6">4</text>
  <text x="338.0" y="138.2">5</text>
  <text x="436.5" y="140.2">6</text>
  <text x="590.0" y="44.6">7</text>
  <text x="625.0" y="76.4">8</text>
  <text x="647.5" y="133.2">9</text>
  <text x="671.8" y="198.0">0</text>
  <text x="395.9" y="299.8">2</text>
</g>
<g fill="#111">
  <path d="M274.6,6.2 L278.1,6.2 L278.1,20.0 L274.5,20.0 L274.5,10.9 C273.6,11.7 272.4,12.2 271.2,12.5 L271.2,9.7 C272.8,9.1 274.2,7.8 274.6,6.2 Z"/><path d="M667.0,184.0 L670.5,184.0 L670.5,198.0 L666.9,198.0 L666.9,188.8 C666.0,189.6 664.8,190.1 663.6,190.4 L663.6,187.5 C665.2,186.9 666.6,185.6 667.0,184.0 Z"/><path d="M555.8,265.8 L559.3,265.8 L559.3,279.8 L555.7,279.8 L555.7,270.6 C554.8,271.4 553.6,271.9 552.4,272.2 L552.4,269.3 C554.0,268.7 555.4,267.4 555.8,265.8 Z"/><path d="M566.1,265.8 L569.6,265.8 L569.6,279.8 L566.0,279.8 L566.0,270.6 C565.1,271.4 563.9,271.9 562.7,272.2 L562.7,269.3 C564.3,268.7 565.7,267.4 566.1,265.8 Z"/><path d="M391.2,286.0 L394.7,286.0 L394.7,299.8 L391.1,299.8 L391.1,290.7 C390.2,291.5 389.0,292.0 387.8,292.3 L387.8,289.4 C389.4,288.9 390.8,287.6 391.2,286.0 Z"/>
</g>

</svg>
</body></html>
